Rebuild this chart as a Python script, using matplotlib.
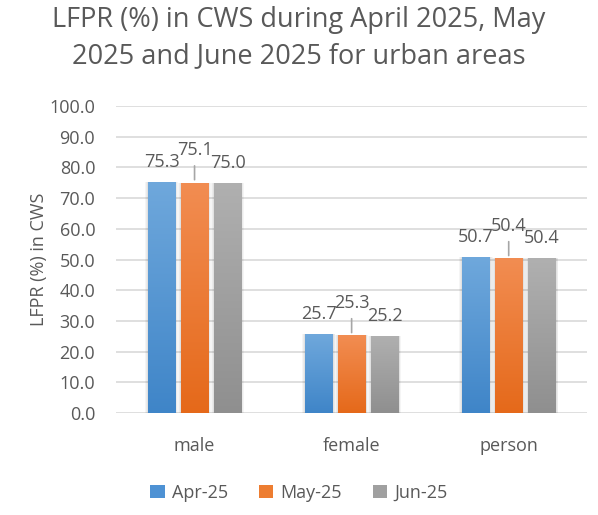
import matplotlib.pyplot as plt
import numpy as np
from matplotlib.colors import LinearSegmentedColormap
from matplotlib.patches import Patch

categories = ["male", "female", "person"]
months = ["Apr-25", "May-25", "Jun-25"]
apr = [75.3, 25.7, 50.7]
may = [75.1, 25.3, 50.4]
jun = [75.0, 25.2, 50.4]

# colour at top / bottom of gradient
colours = [("#6FA8DC", "#3F85C8"), ("#F28D52", "#E5691A"), ("#B0B0B0", "#8F8F8F")]
flat = ["#4E92D4", "#ED7D31", "#A0A0A0"]

plt.rcParams['font.family'] = ['Open Sans', 'DejaVu Sans']
txt = "#595959"

fig = plt.figure(figsize=(5.98, 5.15), dpi=100)
ax = fig.add_axes([0.194, 0.198, 0.788, 0.596])

x = np.arange(len(categories))
width = 0.178
step = 0.21
series = [apr, may, jun]

ax.set_xlim(-0.5, 2.5)
ax.set_ylim(0, 100)

grad = np.linspace(1, 0, 256).reshape(-1, 1)
for i, vals in enumerate(series):
    cmap = LinearSegmentedColormap.from_list("g%d" % i, [colours[i][1], colours[i][0]])
    for j, v in enumerate(vals):
        xc = x[j] + (i - 1) * step
        # soft shadow
        for k in range(3):
            pad = 0.006 * (k + 1)
            ax.bar(xc, v, width + 2 * pad, color="black", alpha=0.04, zorder=2, linewidth=0)
        bar = ax.bar(xc, v, width, color="none", zorder=3, linewidth=0)[0]
        im = ax.imshow(grad, extent=[xc - width / 2, xc + width / 2, 0, v],
                       aspect="auto", cmap=cmap, zorder=3, vmin=0, vmax=1)
        im.set_clip_path(bar)

        if i == 1:
            ax.annotate(f"{v:.1f}", xy=(xc, v), xytext=(0, 23.5), textcoords="offset points",
                        ha="center", va="center", fontsize=13, color=txt, zorder=5)
            ax.annotate("", xy=(xc, v), xytext=(0, 14), textcoords="offset points",
                        arrowprops=dict(arrowstyle="-", color="#A6A6A6", lw=1.2), zorder=4)
        else:
            ax.annotate(f"{v:.1f}", xy=(xc, v), xytext=(0, 14.5), textcoords="offset points",
                        ha="center", va="center", fontsize=13, color=txt, zorder=5)

ax.set_aspect("auto")
ax.set_yticks(np.arange(0, 101, 10))
ax.set_yticklabels([f"{t:.1f}" for t in np.arange(0, 101, 10)])
ax.set_xticks(x)
ax.set_xticklabels(categories)
ax.tick_params(axis="both", length=0, labelsize=13, colors=txt)
ax.tick_params(axis="y", pad=15)
ax.tick_params(axis="x", pad=17)
ax.grid(axis="y", color="#D9D9D9", lw=1.2, zorder=0)
ax.set_axisbelow(True)
for s in ax.spines.values():
    s.set_visible(False)

ax.set_ylabel("LFPR (%) in CWS", fontsize=13, color=txt, labelpad=1)

fig.suptitle("LFPR (%) in CWS during April 2025, May\n2025 and June 2025 for urban areas",
             fontsize=19.5, color=txt, y=0.988, linespacing=1.4)

handles = [Patch(facecolor=flat[i], label=months[i]) for i in range(3)]
fig.legend(handles=handles, loc="center", bbox_to_anchor=(0.5, 0.043), ncol=3,
           frameon=False, fontsize=13, labelcolor=txt, handlelength=0.8,
           handleheight=0.8, columnspacing=1.7, handletextpad=0.4)

fig.savefig("out.png", dpi=100)
